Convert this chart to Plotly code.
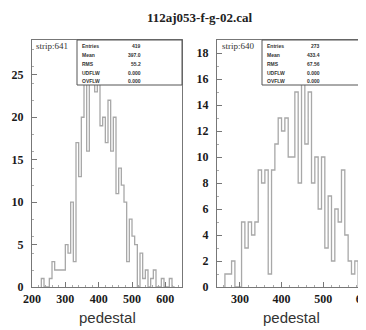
import plotly.graph_objects as go

# ---------------- data ----------------
title_text = "112aj053-f-g-02.cal"

left_label = "strip:641"
left_bin_start = 228
left_bin_width = 8
left_counts = [1, 0, 0, 1, 3, 2, 2, 2, 2, 5, 4, 10, 3, 17, 13, 20, 25, 16, 27, 24,
               23, 24, 19, 20, 17, 22, 16, 20, 11, 14, 12, 10, 3, 8, 6, 5, 0, 4, 1, 2,
               0, 1, 2, 0, 0, 1, 0, 0, 1, 0]
left_stats_names = ["Entries", "Mean", "RMS", "UDFLW", "OVFLW"]
left_stats_vals = ["419", "397.0", "55.2", "0.000", "0.000"]
left_xticks = [200, 300, 400, 500, 600]
left_yticks = [0, 5, 10, 15, 20, 25]

right_label = "strip:640"
right_bin_start = 264
right_bin_width = 8
right_counts = [1, 1, 2, 0, 0, 5, 3, 5, 4, 5, 9, 8, 9, 1, 9, 11, 13, 12, 13, 10,
                10, 15, 8, 17, 11, 15, 8, 10, 6, 10, 3, 7, 2, 6, 5, 9, 4, 2, 1, 2,
                0, 1, 0]
right_stats_names = ["Entries", "Mean", "RMS", "UDFLW", "OVFLW"]
right_stats_vals = ["273", "433.4", "67.56", "0.000", "0.000"]
right_xticks = [300, 400, 500, 600]
right_yticks = [0, 2, 4, 6, 8, 10, 12, 14, 16, 18]

x_title = "pedestal"

# ---------------- helpers ----------------
# the page body has an 8px margin, so the figure starts at (8, 8) in the window
OFF = 8
W, H = 366 - OFF, 330 - OFF


def step_xy(start, width, counts):
    edges = [start + i * width for i in range(len(counts) + 1)]
    xs = [edges[0]] + edges
    ys = [0] + list(counts) + [0]
    return xs, ys


def px_x(p):
    return (p - OFF) / W


def px_y(p):
    return 1 - (p - OFF) / H


fig = go.Figure()

lx, ly = step_xy(left_bin_start, left_bin_width, left_counts)
rx, ry = step_xy(right_bin_start, right_bin_width, right_counts)

hist_color = "#a8a8a8"
fig.add_trace(go.Scatter(x=lx, y=ly, mode="lines", line=dict(shape="hv", color=hist_color, width=1.3),
                         xaxis="x", yaxis="y", showlegend=False, hoverinfo="skip", cliponaxis=True))
fig.add_trace(go.Scatter(x=rx, y=ry, mode="lines", line=dict(shape="hv", color=hist_color, width=1.3),
                         xaxis="x2", yaxis="y2", showlegend=False, hoverinfo="skip", cliponaxis=True))

tickfont = dict(family="Liberation Serif", size=12, color="#1a1a1a", weight="bold")
frame_color = "#777777"
common_axis = dict(showline=True, mirror=True, linecolor=frame_color, linewidth=1,
                   showgrid=False, zeroline=False, ticks="inside", ticklen=5,
                   tickcolor=frame_color, tickfont=tickfont, automargin=False,
                   ticklabeloverflow="allow",
                   minor=dict(ticks="inside", ticklen=2, tickcolor="#aaaaaa"))

ydom = [px_y(287), px_y(40)]
fig.update_layout(
    template="none",
    width=W, height=H,
    margin=dict(l=0, r=0, t=0, b=0, autoexpand=False),
    paper_bgcolor="white", plot_bgcolor="white",
    xaxis=dict(domain=[px_x(32), px_x(182)], range=[200, 650], tickvals=left_xticks,
               anchor="y", ticklabelstandoff=1, **common_axis),
    yaxis=dict(domain=ydom, range=[0, 29.1], tickvals=left_yticks, anchor="x",
               ticklabelstandoff=5, **common_axis),
    xaxis2=dict(domain=[px_x(217), px_x(365)], range=[245, 600.5], tickvals=right_xticks,
                anchor="y2", ticklabelstandoff=1, **common_axis),
    yaxis2=dict(domain=ydom, range=[0, 19.0], tickvals=right_yticks, anchor="x2",
                ticklabelstandoff=5, **common_axis),
)

# stats boxes
shapes = []
annotations = []


def stats_box(x0, x1, y0, y1, names, vals, val_x, label, label_x):
    shapes.append(dict(type="rect", xref="paper", yref="paper",
                       x0=px_x(x0), x1=px_x(x1), y0=px_y(y1), y1=px_y(y0),
                       fillcolor="white", line=dict(color="#555555", width=1), layer="above"))
    rows = [45.5, 54.5, 63.5, 72.5, 81]
    for n, v, ry_ in zip(names, vals, rows):
        annotations.append(dict(x=px_x(x0 + 3), y=px_y(ry_), xref="paper", yref="paper",
                                text="<b>%s</b>" % n, showarrow=False, xanchor="left", yanchor="middle",
                                font=dict(family="Liberation Sans", size=5, color="#333333")))
        annotations.append(dict(x=px_x(val_x), y=px_y(ry_), xref="paper", yref="paper",
                                text="<b>%s</b>" % v, showarrow=False, xanchor="right", yanchor="middle",
                                font=dict(family="Liberation Sans", size=5, color="#333333")))
    annotations.append(dict(x=px_x(label_x), y=px_y(46), xref="paper", yref="paper",
                            text=label, showarrow=False, xanchor="left", yanchor="middle",
                            font=dict(family="Liberation Serif", size=9, color="#333333")))


stats_box(77, 182, 40, 85, left_stats_names, left_stats_vals, 143, left_label, 34)
stats_box(262, 365, 40, 85, right_stats_names, right_stats_vals, 322, right_label, 220)

# title
annotations.append(dict(x=px_x(199), y=px_y(17), xref="paper", yref="paper", text="<b>%s</b>" % title_text,
                        showarrow=False, xanchor="center", yanchor="middle",
                        font=dict(family="Liberation Serif", size=13, color="#222222")))
# x titles
for cx in (107, 291):
    annotations.append(dict(x=px_x(cx), y=px_y(317), xref="paper", yref="paper", text=x_title,
                            showarrow=False, xanchor="center", yanchor="middle",
                            font=dict(family="Liberation Sans", size=15, color="#333333")))

fig.update_layout(shapes=shapes, annotations=annotations)
fig.write_html("out.html")
